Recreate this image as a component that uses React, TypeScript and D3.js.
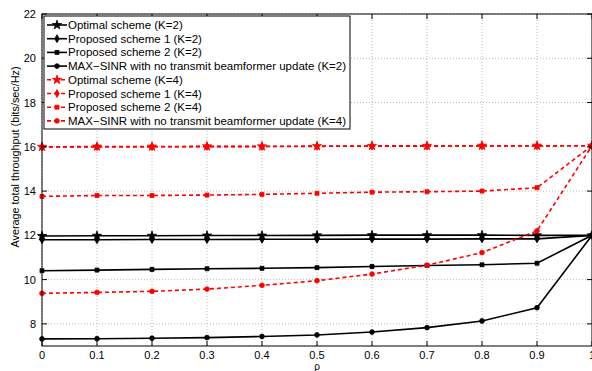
import React from "react";
import * as d3 from "d3";

const rho = [0, 0.1, 0.2, 0.3, 0.4, 0.5, 0.6, 0.7, 0.8, 0.9, 1];
const optK2 = [11.97, 11.98, 11.98, 11.99, 11.99, 12.0, 12.01, 12.01, 12.01, 12.0, 12.0];
const prop1K2 = [11.8, 11.8, 11.81, 11.81, 11.82, 11.82, 11.83, 11.83, 11.84, 11.84, 12.0];
const prop2K2 = [10.4, 10.43, 10.46, 10.49, 10.51, 10.54, 10.59, 10.64, 10.67, 10.74, 12.0];
const maxK2 = [7.32, 7.33, 7.35, 7.38, 7.43, 7.5, 7.63, 7.83, 8.13, 8.73, 12.0];
const optK4 = [16.0, 16.01, 16.01, 16.02, 16.02, 16.03, 16.04, 16.04, 16.05, 16.05, 16.05];
const prop1K4 = [15.99, 16.0, 16.0, 16.01, 16.01, 16.02, 16.03, 16.03, 16.04, 16.04, 16.05];
const prop2K4 = [13.76, 13.8, 13.8, 13.82, 13.85, 13.9, 13.95, 13.97, 14.0, 14.15, 16.05];
const maxK4 = [9.38, 9.42, 9.47, 9.57, 9.74, 9.95, 10.25, 10.65, 11.22, 12.2, 16.05];

const xTicks = [0, 0.1, 0.2, 0.3, 0.4, 0.5, 0.6, 0.7, 0.8, 0.9, 1];
const yTicks = [8, 10, 12, 14, 16, 18, 20, 22];

const seriesNames = [
  "Optimal scheme (K=2)",
  "Proposed scheme 1 (K=2)",
  "Proposed scheme 2 (K=2)",
  "MAX\u2212SINR with no transmit beamformer update (K=2)",
  "Optimal scheme (K=4)",
  "Proposed scheme 1 (K=4)",
  "Proposed scheme 2 (K=4)",
  "MAX\u2212SINR with no transmit beamformer update (K=4)",
];
const seriesData = [optK2, prop1K2, prop2K2, maxK2, optK4, prop1K4, prop2K4, maxK4];
const seriesColor = ["#000", "#000", "#000", "#000", "#f00", "#f00", "#f00", "#f00"];
const seriesDash = [null, null, null, null, "4,3", "4,3", "4,3", "4,3"];
const seriesSym = [d3.symbolStar, d3.symbolDiamond, d3.symbolSquare, d3.symbolCircle, d3.symbolStar, d3.symbolDiamond, d3.symbolSquare, d3.symbolCircle];
const symSize = [26, 18, 16, 18, 26, 18, 16, 18];

const W = 592, H = 371;
const L = 42, R = 592, T = 14, B = 346;

export default function App() {
  const x = d3.scaleLinear().domain([0, 1]).range([L, R]);
  const y = d3.scaleLinear().domain([7, 22]).range([B, T]);
  const line = d3.line<number>().x((_, i) => x(rho[i])).y((d) => y(d));
  const font = "Liberation Sans, Arial, Helvetica, sans-serif";
  const legX = 44, legY = 16, legW = 306, legH = 113;
  const rowY = (i: number) => 25 + i * 13.7;
  return (
    <svg width={W} height={H} style={{ position: "absolute", left: 0, top: 0, background: "#fff" }} fontFamily={font}>
      <rect x={0} y={0} width={W} height={H} fill="#fff" />
      {/* grid */}
      {xTicks.map((t) => (
        <line key={"gx" + t} x1={x(t)} x2={x(t)} y1={T} y2={B} stroke="#aaa" strokeWidth={0.8} strokeDasharray="1,2" />
      ))}
      {yTicks.map((t) => (
        <line key={"gy" + t} x1={L} x2={R} y1={y(t)} y2={y(t)} stroke="#aaa" strokeWidth={0.8} strokeDasharray="1,2" />
      ))}
      {/* series */}
      {seriesData.map((s, k) => (
        <g key={"s" + k}>
          <path d={line(s) || ""} fill="none" stroke={seriesColor[k]} strokeWidth={1.6} strokeDasharray={seriesDash[k] || undefined} />
          {s.map((v, i) => (
            <path key={i} transform={`translate(${x(rho[i])},${y(v)})`} d={d3.symbol().type(seriesSym[k]).size(symSize[k])() || ""}
              fill={seriesColor[k]} stroke={seriesColor[k]} strokeWidth={0.8} />
          ))}
        </g>
      ))}
      {/* axes box */}
      <rect x={L} y={T} width={R - L} height={B - T} fill="none" stroke="#000" strokeWidth={1} />
      {xTicks.map((t) => (
        <g key={"xt" + t}>
          <line x1={x(t)} x2={x(t)} y1={B} y2={B - 5} stroke="#000" />
          <line x1={x(t)} x2={x(t)} y1={T} y2={T + 5} stroke="#000" />
          <text x={x(t)} y={B + 13} fontSize={11} textAnchor="middle">{String(t)}</text>
        </g>
      ))}
      {yTicks.map((t) => (
        <g key={"yt" + t}>
          <line x1={L} x2={L + 5} y1={y(t)} y2={y(t)} stroke="#000" />
          <line x1={R} x2={R - 5} y1={y(t)} y2={y(t)} stroke="#000" />
          <text x={L - 6} y={y(t) + 4} fontSize={11} textAnchor="end">{String(t)}</text>
        </g>
      ))}
      <text x={x(0.5)} y={370} fontSize={10} textAnchor="middle">ρ</text>
      <text transform={`translate(19,157) rotate(-90)`} fontSize={10.8} textAnchor="middle">
        Average total throughput (bits/sec/Hz)
      </text>
      {/* legend */}
      <rect x={legX} y={legY} width={legW} height={legH} fill="#fff" stroke="#000" strokeWidth={1} />
      {seriesNames.map((n, k) => (
        <g key={"l" + k}>
          <line x1={47} x2={67} y1={rowY(k)} y2={rowY(k)} stroke={seriesColor[k]} strokeWidth={1.6} strokeDasharray={seriesDash[k] || undefined} />
          <path transform={`translate(57,${rowY(k)})`} d={d3.symbol().type(seriesSym[k]).size(symSize[k])() || ""}
            fill={seriesColor[k]} stroke={seriesColor[k]} strokeWidth={0.8} />
          <text x={68} y={rowY(k) + 4} fontSize={11.5}>{n}</text>
        </g>
      ))}
    </svg>
  );
}
